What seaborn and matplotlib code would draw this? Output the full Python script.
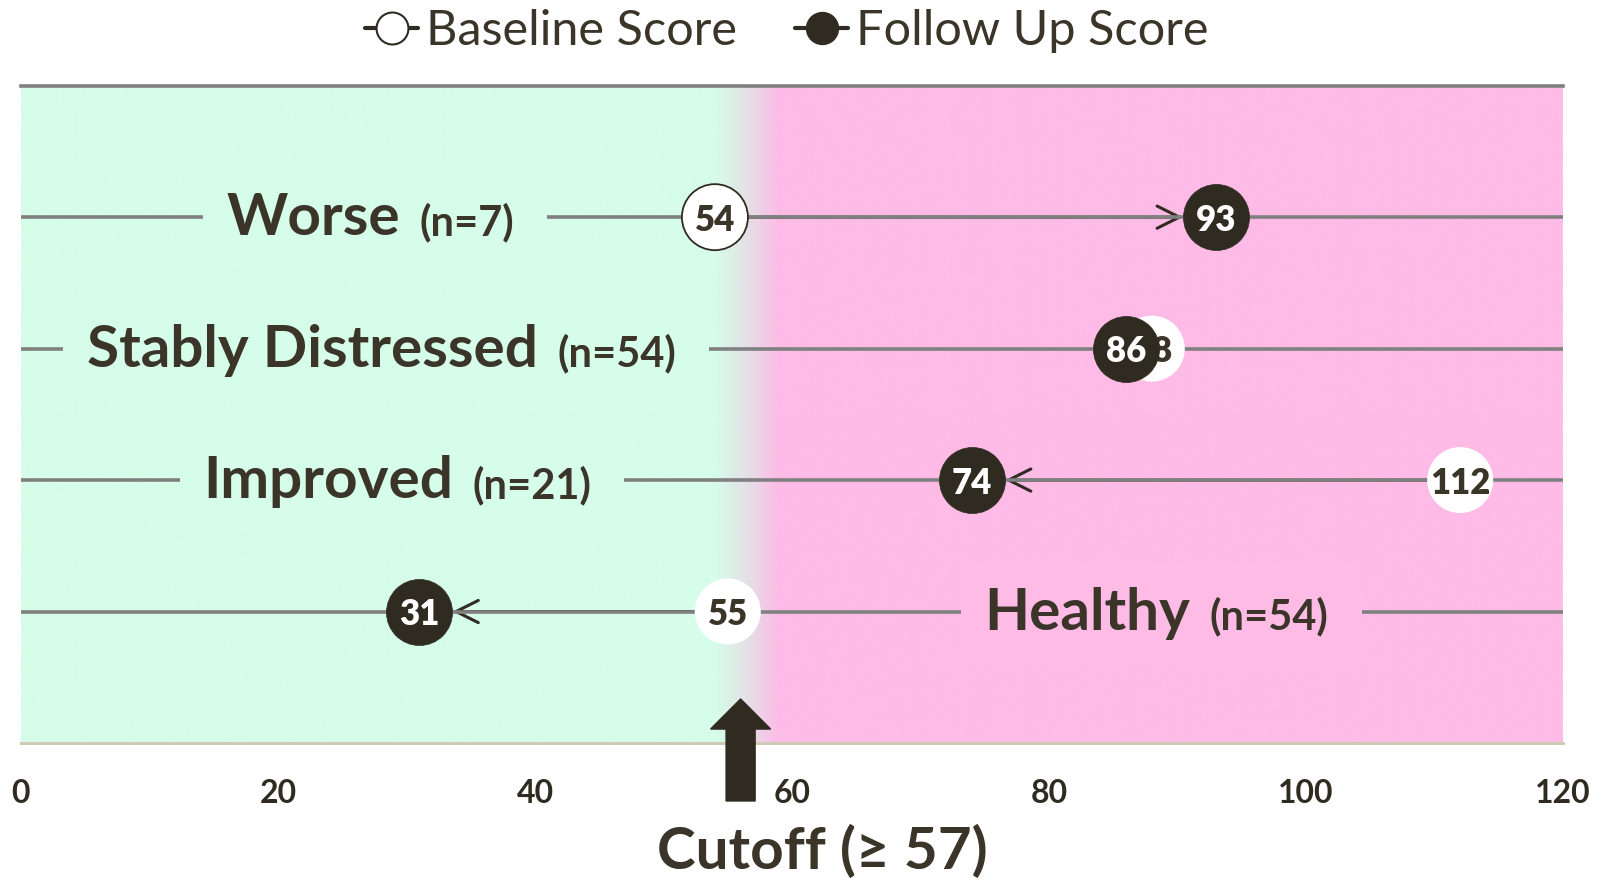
import numpy as np
import pandas as pd
import matplotlib
matplotlib.use("Agg")
import matplotlib.pyplot as plt
from matplotlib.lines import Line2D
from matplotlib.patches import FancyArrow
from matplotlib.colors import to_rgb
import seaborn as sns

# ---------------- data ----------------
groups = ["Worse", "Stably Distressed", "Improved", "Healthy"]
group_n = [7, 54, 21, 54]
baseline = [54, 88, 112, 55]
follow_up = [93, 86, 74, 31]
x_ticks = [0, 20, 40, 60, 80, 100, 120]
cutoff_value = 57
cutoff_label = "Cutoff (≥ 57)"
legend_labels = ["Baseline Score", "Follow Up Score"]

# ---------------- style ----------------
DARK = "#302b21"
TEXT = "#3b3428"
GRID = "#808080"
GREEN = "#d6fde9"
PINK = "#fdbbe6"
MID = "#e2e3e6"
SPINE_BOTTOM = "#cfc9b6"

# label layout (x where the group word ends, background behind label)
label_x = [29.5, 40.2, 33.6, 91.0]
label_bg = [GREEN, GREEN, GREEN, PINK]
baseline_edge = [DARK, "none", "none", "none"]

sns.set_style("white")
plt.rcParams["font.family"] = ["Lato", "DejaVu Sans"]

W, H = 1602, 884
fig = plt.figure(figsize=(W / 100, H / 100), dpi=100)
ax = fig.add_axes([21 / W, 1 - 743 / H, (1563 - 21) / W, (743 - 85.7) / H])

pos = np.arange(len(groups))
df = pd.DataFrame({"group": groups, "pos": pos, "baseline": baseline,
                   "follow_up": follow_up})

xmin, xmax = x_ticks[0], x_ticks[-1]
ytop, ybot = -1, len(groups)

# background gradient (green -> pink around the cutoff)
last_healthy = cutoff_value - 1
xs = np.linspace(xmin, xmax, 2401)
stops_x = [xmin, last_healthy - 2, last_healthy + 0.3, last_healthy + 3, xmax]
rgb = np.array([to_rgb(c) for c in [GREEN, GREEN, MID, PINK, PINK]])
img = np.stack([np.interp(xs, stops_x, rgb[:, i]) for i in range(3)], axis=-1)[None]
ax.imshow(img, extent=[xmin, xmax, ybot, ytop], aspect="auto", zorder=0,
          interpolation="bilinear")

# change arrows (below the grid lines so only the heads stand out)
for b, f, p in zip(baseline, follow_up, pos):
    if abs(f - b) > 5:
        ax.annotate("", xy=(f, p), xytext=(b, p),
                    arrowprops=dict(arrowstyle="->,head_length=0.8,head_width=0.4",
                                    color=DARK, lw=2.2, shrinkA=24, shrinkB=24,
                                    mutation_scale=20),
                    zorder=1)

# baseline markers
sns.scatterplot(data=df, x="baseline", y="pos", s=2260, color="white",
                edgecolor=baseline_edge, linewidth=1.3, zorder=4, ax=ax,
                legend=False)
for b, p in zip(baseline, pos):
    ax.text(b, p, str(b), ha="center", va="center_baseline", fontsize=25,
            fontweight="heavy", color=TEXT, zorder=5)

# follow-up markers
sns.scatterplot(data=df, x="follow_up", y="pos", s=2260, color=DARK,
                edgecolor=DARK, linewidth=0.5, zorder=6, ax=ax, legend=False)
for f, p in zip(follow_up, pos):
    ax.text(f, p, str(f), ha="center", va="center_baseline", fontsize=25,
            fontweight="heavy", color="white", zorder=7)

# group labels: background box of the big word, then the (n=..) label with
# its own box, then the big word on top
for g, n, p, lx, bg in zip(groups, group_n, pos, label_x, label_bg):
    common = dict(xy=(lx, p), textcoords="offset points", va="baseline",
                  fontweight="bold")
    ax.annotate(g, xytext=(0, -13), ha="right", fontsize=42,
                color=(0, 0, 0, 0), zorder=2.9,
                bbox=dict(boxstyle="square,pad=0.4", fc=bg, ec="none"), **common)
    ax.annotate(f"(n={n})", xytext=(14, -13), ha="left", fontsize=30,
                color=TEXT, zorder=3.0,
                bbox=dict(boxstyle="square,pad=0.8", fc=bg, ec="none"), **common)
    ax.annotate(g, xytext=(0, -13), ha="right", fontsize=42, color=TEXT,
                zorder=3.2, **common)

# axes
ax.set_xlim(xmin, xmax)
ax.set_ylim(ybot, ytop)
ax.set_yticks(pos)
ax.set_yticklabels([])
ax.tick_params(axis="y", length=0)
ax.set_xticks(x_ticks)
ax.set_xticklabels([str(t) for t in x_ticks], fontsize=23, fontweight="bold",
                   color=DARK)
ax.tick_params(axis="x", length=0, pad=26)
ax.yaxis.grid(True, color=GRID, lw=2.6)
ax.xaxis.grid(False)
ax.set_axisbelow("line")
ax.set_xlabel("")
ax.set_ylabel("")
for side in ["left", "right"]:
    ax.spines[side].set_visible(False)
ax.spines["top"].set_color(GRID)
ax.spines["top"].set_linewidth(2.6)
ax.spines["bottom"].set_color(SPINE_BOTTOM)
ax.spines["bottom"].set_linewidth(2.2)

# cutoff arrow
tip, base = 3.665, 4.441
ax.add_patch(FancyArrow(last_healthy, base, 0, -(base - tip), width=2.26,
                        head_width=4.67, head_length=0.229,
                        length_includes_head=True, color=DARK, clip_on=False,
                        zorder=8))
fig.text(822 / W, 15 / H, cutoff_label, ha="center", va="baseline",
         fontsize=42, fontweight="bold", color=TEXT)

# legend
handles = [
    Line2D([], [], color=DARK, lw=3, marker="o", markersize=23,
           markerfacecolor="white", markeredgecolor=DARK, markeredgewidth=1.5),
    Line2D([], [], color=DARK, lw=3, marker="o", markersize=23,
           markerfacecolor=DARK, markeredgecolor=DARK),
]
fig.legend(handles, legend_labels, loc="center",
           bbox_to_anchor=(0.491, 1 - 31 / H), ncol=2, frameon=False,
           fontsize=35, handlelength=1.1, handletextpad=0.15,
           columnspacing=1.2, labelcolor=TEXT)

fig.savefig("out.png", dpi=100)
